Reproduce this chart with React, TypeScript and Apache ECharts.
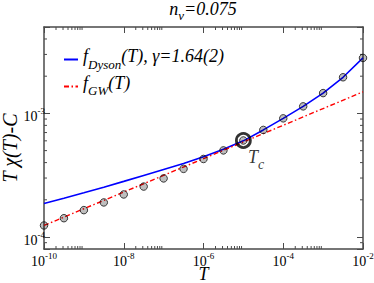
import React, { useEffect, useRef } from 'react';
import * as echarts from 'echarts';

// ---- data ----
const temperatures = [
  1e-10, 3.16e-10, 1e-9, 3.16e-9, 1e-8, 3.16e-8, 1e-7, 3.16e-7, 1e-6,
  3.16e-6, 1e-5, 3.16e-5, 1e-4, 3.16e-4, 1e-3, 3.16e-3, 1e-2,
];
const chiMinusC = [
  1.24e-4, 1.42e-4, 1.65e-4, 1.905e-4, 2.21e-4, 2.56e-4, 2.98e-4, 3.56e-4, 4.28e-4,
  5.02e-4, 6.04e-4, 7.35e-4, 9.12e-4, 1.14e-3, 1.46e-3, 1.96e-3, 2.81e-3,
];
const dysonFit = [
  1.87e-4, 2.06e-4, 2.28e-4, 2.53e-4, 2.82e-4, 3.15e-4, 3.52e-4, 3.93e-4, 4.47e-4,
  5.13e-4, 6.0e-4, 7.35e-4, 9.12e-4, 1.14e-3, 1.46e-3, 1.96e-3, 2.81e-3,
];
const gwTemperatures = [1e-10, 1e-2];
const gwFit = [1.24e-4, 1.494e-3];
const criticalPoint = [1e-5, 6.04e-4];

const legendNames = ['Dyson', 'GW'];
const titleText = '{a|n}{b|v}{a|=0.075}';

// tick positions
const xMinorDecades = [1e-10, 1e-8, 1e-6, 1e-4];
const mantissas = [2, 3, 4, 5, 6, 7, 8, 9];
const xMinorTicks = xMinorDecades.flatMap((d) => mantissas.map((m) => m * d));
const yMinorTicks = [9e-5, 2e-4, 3e-4, 4e-4, 5e-4, 6e-4, 7e-4, 8e-4, 9e-4, 2e-3, 3e-3, 4e-3];

const X_MIN = 1e-10;
const X_MAX = 1e-2;
const Y_MIN = 8e-5;
const Y_MAX = 5e-3;

const FRAME = '#4a4a4a';
const SERIF = 'Liberation Serif';

function powerLabel(v: number): string {
  const e = Math.log10(v);
  const r = Math.round(e);
  if (Math.abs(e - r) > 1e-6) return '';
  return `{b|10}{s|${r}}`;
}

const tickRich = {
  b: { fontSize: 14, lineHeight: 20, fontFamily: SERIF, color: '#000' },
  s: { fontSize: 9, lineHeight: 8, verticalAlign: 'top', fontFamily: SERIF, color: '#000' },
};

const axisLineStyle = { show: true, onZero: false, lineStyle: { color: FRAME, width: 1.5 } };
const axisTickStyle = { show: true, inside: true, length: 6, lineStyle: { color: FRAME, width: 1 } };

function buildOption(): any {
  const xBase = {
    type: 'log',
    logBase: 10,
    min: X_MIN,
    max: X_MAX,
    interval: 2,
    splitLine: { show: false },
    axisLine: axisLineStyle,
    axisTick: axisTickStyle,
  };
  const yBase = {
    type: 'log',
    logBase: 10,
    min: Y_MIN,
    max: Y_MAX,
    splitLine: { show: false },
    axisLine: axisLineStyle,
    axisTick: axisTickStyle,
  };
  const italic = { fontFamily: SERIF, fontStyle: 'italic', color: '#000' };
  const zItalic = { fontFamily: SERIF, fontStyle: 'italic', fill: '#000' };

  return {
    animation: false,
    backgroundColor: '#fff',
    legend: {
      data: legendNames,
      orient: 'vertical',
      left: 63,
      top: 47,
      padding: 0,
      itemGap: 1.4,
      itemWidth: 14,
      itemHeight: 14,
      selectedMode: false,
      itemStyle: { opacity: 0 },
      formatter: (name: string) =>
        name === 'Dyson' ? '{m|f}{sub|Dyson}{m|(T), γ=1.64(2)}' : '{m|f}{sub|GW}{m|(T)}',
      textStyle: {
        ...italic,
        rich: {
          m: { ...italic, fontSize: 18, lineHeight: 26, padding: [0, 0, 7, 0] },
          sub: { ...italic, fontSize: 13, lineHeight: 10, verticalAlign: 'bottom', padding: [0, 0, 2, 0] },
        },
      },
    },
    grid: { left: 44, right: 11, top: 27, bottom: 34, outerBoundsMode: 'none' },
    xAxis: [
      {
        ...xBase,
        position: 'bottom',
        axisLabel: { margin: 2, formatter: powerLabel, rich: tickRich, showMinLabel: true, showMaxLabel: true },
        name: 'T',
        nameLocation: 'middle',
        nameGap: 17.5,
        nameMoveOverlap: false,
        nameTextStyle: { ...italic, fontSize: 18, lineHeight: 14 },
      },
      { ...xBase, position: 'top', axisLabel: { show: false } },
    ],
    yAxis: [
      {
        ...yBase,
        position: 'left',
        axisLabel: { margin: -1, padding: [6, 0, 0, 0], formatter: powerLabel, rich: tickRich },
      },
      { ...yBase, position: 'right', axisLabel: { show: false } },
    ],
    graphic: [
      {
        type: 'text',
        x: 203,
        y: 0,
        style: {
          text: titleText,
          font: 'italic 18px Liberation Serif',
          fill: '#000',
          align: 'center',
          verticalAlign: 'top',
          rich: {
            a: { font: 'italic 18px Liberation Serif', fill: '#000', lineHeight: 22, verticalAlign: 'top' },
            b: { font: 'italic 13px Liberation Serif', fill: '#000', lineHeight: 10, verticalAlign: 'bottom' },
          },
        },
      },
      {
        type: 'text',
        x: 10,
        y: 148,
        rotation: Math.PI / 2,
        style: {
          text: 'T χ(T)-C',
          ...zItalic,
          fontSize: 20,
          align: 'center',
          verticalAlign: 'middle',
        },
      },
    ],
    series: [
      {
        name: 'Dyson',
        type: 'line',
        data: temperatures.map((t, i) => [t, dysonFit[i]]),
        symbol: 'none',
        lineStyle: { color: '#0000ff', width: 1.6 },
        itemStyle: { color: '#0000ff' },
        z: 3,
      },
      {
        name: 'GW',
        type: 'line',
        data: gwTemperatures.map((t, i) => [t, gwFit[i]]),
        symbol: 'none',
        lineStyle: { color: '#ff0000', width: 1.4, type: [5, 2.5, 1.5, 2.5] },
        itemStyle: { color: '#ff0000' },
        z: 3,
      },
      {
        name: 'data',
        type: 'scatter',
        data: temperatures.map((t, i) => [t, chiMinusC[i]]),
        symbol: 'circle',
        symbolSize: 7.5,
        itemStyle: { color: 'rgba(0,0,0,0.32)', borderColor: '#111', borderWidth: 1 },
        z: 4,
      },
      {
        name: 'Tc',
        type: 'scatter',
        data: [criticalPoint],
        symbol: 'circle',
        symbolSize: 14,
        itemStyle: { color: 'rgba(0,0,0,0)', borderColor: '#000', borderWidth: 2.8 },
        label: {
          show: true,
          formatter: '{t|T}{c|c}',
          position: [13, 11],
          align: 'left',
          verticalAlign: 'top',
          rich: {
            t: { ...italic, fontSize: 18, lineHeight: 28 },
            c: { ...italic, fontSize: 14, lineHeight: 10, verticalAlign: 'bottom' },
          },
        },
        z: 5,
      },
      {
        name: 'xMinor',
        type: 'custom',
        silent: true,
        clip: false,
        data: xMinorTicks.map((v) => [v, Y_MIN]),
        encode: { x: 0, y: 1 },
        renderItem: (params: any, api: any) => {
          const x = api.coord([api.value(0), Y_MIN])[0];
          const cs = params.coordSys;
          const st = { stroke: FRAME, lineWidth: 1 };
          return {
            type: 'group',
            children: [
              { type: 'line', shape: { x1: x, y1: cs.y + cs.height, x2: x, y2: cs.y + cs.height - 3 }, style: st },
              { type: 'line', shape: { x1: x, y1: cs.y, x2: x, y2: cs.y + 3 }, style: st },
            ],
          };
        },
      },
      {
        name: 'yMinor',
        type: 'custom',
        silent: true,
        clip: false,
        data: yMinorTicks.map((v) => [X_MIN, v]),
        encode: { x: 0, y: 1 },
        renderItem: (params: any, api: any) => {
          const y = api.coord([X_MIN, api.value(1)])[1];
          const cs = params.coordSys;
          const st = { stroke: FRAME, lineWidth: 1 };
          return {
            type: 'group',
            children: [
              { type: 'line', shape: { x1: cs.x, y1: y, x2: cs.x + 3, y2: y }, style: st },
              { type: 'line', shape: { x1: cs.x + cs.width, y1: y, x2: cs.x + cs.width - 3, y2: y }, style: st },
            ],
          };
        },
      },
    ],
  };
}

export default function App() {
  const ref = useRef<HTMLDivElement>(null);
  useEffect(() => {
    if (!ref.current) return;
    const chart = echarts.init(ref.current, null, { renderer: 'svg' });
    chart.setOption(buildOption());
    return () => chart.dispose();
  }, []);
  return (
    <div
      ref={ref}
      style={{ position: 'fixed', left: 0, top: 0, width: 374, height: 283, background: '#fff' }}
    />
  );
}
